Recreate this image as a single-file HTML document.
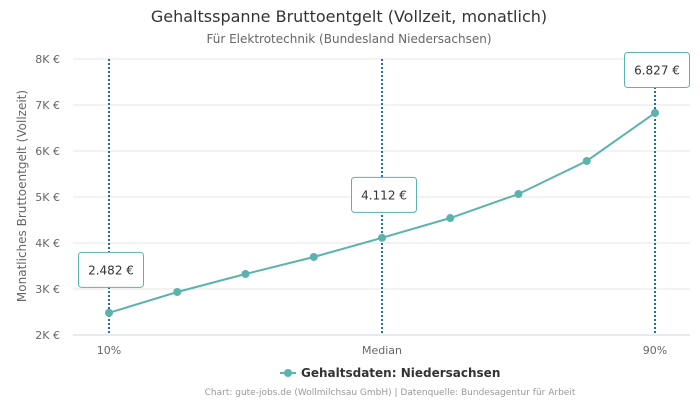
<!DOCTYPE html>
<html><head><meta charset="utf-8"><style>
body{margin:0;background:#fff;font-family:"DejaVu Sans","Liberation Sans",sans-serif;}
svg text{font-family:"DejaVu Sans","Liberation Sans",sans-serif;}
</style></head><body>
<svg id="c" width="700" height="400">
<text x="349" y="22" text-anchor="middle" font-size="16" fill="#333">Gehaltsspanne Bruttoentgelt (Vollzeit, monatlich)</text>
<text x="349" y="43" text-anchor="middle" font-size="12" fill="#666">Für Elektrotechnik (Bundesland Niedersachsen)</text>
<text transform="translate(26,196) rotate(-90)" text-anchor="middle" font-size="12" fill="#666">Monatliches Bruttoentgelt (Vollzeit)</text>
<g id="grid"></g><g id="marks"></g>
<g>
<line x1="280" y1="373" x2="296" y2="373" stroke="#5bb3ad" stroke-width="2"/>
<circle cx="288" cy="373" r="4" fill="#5bb3ad"/>
<text x="301" y="377" font-size="12" font-weight="bold" fill="#333">Gehaltsdaten: Niedersachsen</text>
</g>
<text x="390" y="395" text-anchor="middle" font-size="9" fill="#999">Chart: gute-jobs.de (Wollmilchsau GmbH) | Datenquelle: Bundesagentur für Arbeit</text>
</svg>
<script>
const categories=["10%","","","","Median","","","","90%"];
const values=[2482,2935,3326,3696,4112,4543,5065,5783,6827];
const yTicks=[2000,3000,4000,5000,6000,7000,8000];
const yTickLabels=["2K €","3K €","4K €","5K €","6K €","7K €","8K €"];
const markers=[0,4,8];
const markerLabels=["2.482 €","4.112 €","6.827 €"];
const NS="http://www.w3.org/2000/svg";
const L=73,R=690,T=59,B=335;
const x=i=>109+(655-109)/(categories.length-1)*i;
const y=v=>B-(v-2000)/6000*(B-T);
function mk(t,a,p){const e=document.createElementNS(NS,t);for(const k in a)e.setAttribute(k,a[k]);p.appendChild(e);return e;}
const g=document.getElementById('grid'),m=document.getElementById('marks');
yTicks.forEach((v,i)=>{
 const ln=mk('line',{x1:L,x2:R,y1:y(v),y2:y(v),stroke:i==0?'#ccd6eb':'#e6e6e6'},g);
 
 
 const t=mk('text',{x:60,y:y(v)+4,'text-anchor':'end','font-size':11,fill:'#666'},g);t.textContent=yTickLabels[i];
 
 
});
categories.forEach((c,i)=>{if(!c)return;
 const t=mk('text',{x:x(i),y:354,'text-anchor':'middle','font-size':11,fill:'#666'},g);t.textContent=c;
 
 
});
markers.forEach(i=>{
 const ln=mk('line',{x1:x(i),x2:x(i),y1:T,y2:B,stroke:'#1f6fa8','stroke-width':2,'stroke-dasharray':'2,2'},m);
 
 
});
const pl=mk('polyline',{points:values.map((v,i)=>x(i)+','+y(v)).join(' '),fill:'none',stroke:'#5bb3ad','stroke-width':2},m);


values.forEach((v,i)=>{
 const c=mk('circle',{cx:x(i),cy:y(v),r:4,fill:'#5bb3ad'},m);
 
 
});
markers.forEach((i,k)=>{
 const cx=x(i)+2,cy=y(values[i])-43,w=65,h=35;
 const r=mk('rect',{x:cx-w/2,y:cy-h/2,width:w,height:h,rx:3,fill:'#fff',stroke:'#5bb3ad','stroke-width':1},m);
 
 
 const t=mk('text',{x:cx,y:cy+4.5,'text-anchor':'middle','font-size':12,fill:'#333'},m);t.textContent=markerLabels[k];
 
 
});
</script>
</body></html>
